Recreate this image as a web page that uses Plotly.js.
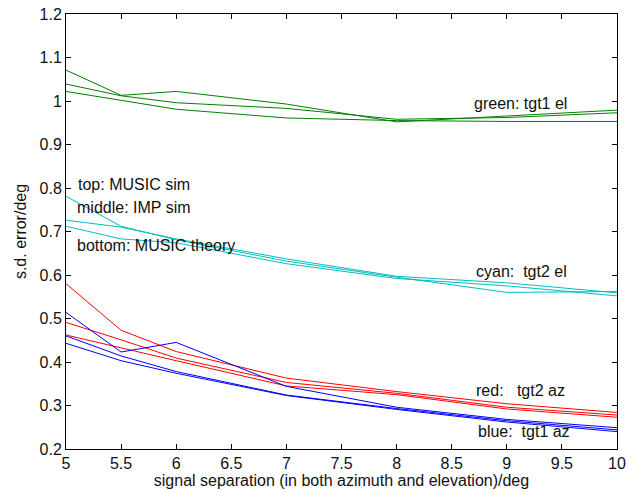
<!DOCTYPE html>
<html>
<head>
<meta charset="utf-8">
<script src="https://cdn.plot.ly/plotly-3.0.1.min.js"></script>
<style>html,body{margin:0;padding:0;background:#fff;}#chart{width:633px;height:493px;}</style>
</head>
<body>
<div id="chart"></div>
<script>
// signal separation (deg)
const separation = [5, 5.5, 6, 7, 8, 9, 10];

// green: tgt1 el
const greenMusicSim    = [1.071, 1.013, 1.022, 0.993, 0.952, 0.966, 0.979];
const greenImpSim      = [1.039, 1.012, 0.996, 0.983, 0.958, 0.962, 0.973];
const greenMusicTheory = [1.022, 1.002, 0.981, 0.961, 0.955, 0.953, 0.953];

// cyan: tgt2 el
const cyanMusicSim     = [0.781, 0.712, 0.681, 0.632, 0.595, 0.560, 0.562];
const cyanImpSim       = [0.726, 0.710, 0.683, 0.637, 0.597, 0.582, 0.559];
const cyanMusicTheory  = [0.712, 0.683, 0.674, 0.626, 0.592, 0.575, 0.552];

// red: tgt2 az
const redMusicSim      = [0.580, 0.473, 0.424, 0.363, 0.332, 0.304, 0.284];
const redImpSim        = [0.491, 0.451, 0.409, 0.353, 0.328, 0.296, 0.278];
const redMusicTheory   = [0.462, 0.432, 0.403, 0.345, 0.325, 0.292, 0.273];

// blue: tgt1 az
const blueMusicSim     = [0.514, 0.423, 0.445, 0.344, 0.296, 0.268, 0.249];
const blueImpSim       = [0.460, 0.414, 0.378, 0.324, 0.293, 0.265, 0.244];
const blueMusicTheory  = [0.443, 0.403, 0.374, 0.323, 0.291, 0.262, 0.240];

const xTickVals = [5, 5.5, 6, 6.5, 7, 7.5, 8, 8.5, 9, 9.5, 10];
const xTickText = ["5", "5.5", "6", "6.5", "7", "7.5", "8", "8.5", "9", "9.5", "10"];
const yTickVals = [0.2, 0.3, 0.4, 0.5, 0.6, 0.7, 0.8, 0.9, 1.0, 1.1, 1.2];
const yTickText = ["0.2", "0.3", "0.4", "0.5", "0.6", "0.7", "0.8", "0.9", "1", "1.1", "1.2"];

const labels = [
  {text: "green: tgt1 el", x: 8.68, y: 0.995},
  {text: "top: MUSIC sim", x: 5.09, y: 0.808},
  {text: "middle: IMP sim", x: 5.08, y: 0.755},
  {text: "bottom: MUSIC theory", x: 5.08, y: 0.668},
  {text: "cyan:  tgt2 el", x: 8.70, y: 0.608},
  {text: "red:   tgt2 az", x: 8.70, y: 0.334},
  {text: "blue:  tgt1 az", x: 8.72, y: 0.241}
];

const groups = [
  {color: "#008000", series: [greenMusicSim, greenImpSim, greenMusicTheory]},
  {color: "#00BFBF", series: [cyanMusicSim, cyanImpSim, cyanMusicTheory]},
  {color: "#FF0000", series: [redMusicSim, redImpSim, redMusicTheory]},
  {color: "#0000FF", series: [blueMusicSim, blueImpSim, blueMusicTheory]}
];

const traces = [];
groups.forEach(g => g.series.forEach(s => traces.push({
  x: separation, y: s, type: "scatter", mode: "lines",
  line: {color: g.color, width: 1}, hoverinfo: "skip"
})));

const fam = "Liberation Sans, Arial, sans-serif";
const font = {family: fam, size: 16, color: "#111"};

const layout = {
  width: 633, height: 493,
  margin: {l: 66, r: 16, t: 14, b: 44, pad: 0},
  paper_bgcolor: "#fff", plot_bgcolor: "#fff",
  showlegend: false,
  font: font,
  xaxis: {
    range: [5, 10], tickvals: xTickVals, ticktext: xTickText,
    ticks: "inside", ticklen: 5, tickcolor: "#000", tickwidth: 1,
    showline: true, linecolor: "#000", linewidth: 1, mirror: "ticks",
    showgrid: false, zeroline: false,
    tickfont: font,
    title: {text: "signal separation (in both azimuth and elevation)/deg", font: font, standoff: 2}
  },
  yaxis: {
    range: [0.2, 1.2], tickvals: yTickVals, ticktext: yTickText,
    ticks: "inside", ticklen: 5, tickcolor: "#000", tickwidth: 1,
    showline: true, linecolor: "#000", linewidth: 1, mirror: "ticks",
    showgrid: false, zeroline: false,
    tickfont: font,
    title: {text: "s.d. error/deg", font: font, standoff: 8}
  },
  annotations: labels.map(l => ({
    text: l.text, x: l.x, y: l.y, xref: "x", yref: "y",
    xanchor: "left", yanchor: "middle", showarrow: false,
    font: font
  }))
};

Plotly.newPlot("chart", traces, layout, {staticPlot: true, displayModeBar: false});
</script>
</body>
</html>
